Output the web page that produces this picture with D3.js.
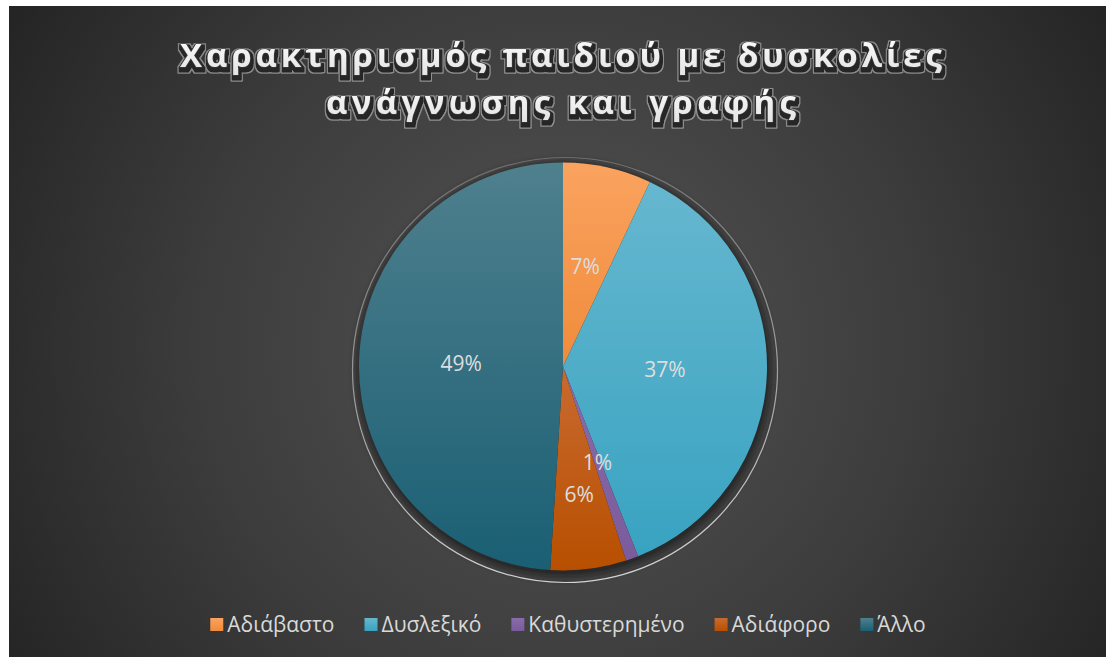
<!DOCTYPE html>
<html lang="el">
<head>
<meta charset="utf-8">
<script src="https://cdn.jsdelivr.net/npm/d3@7"></script>
<style>
  html, body { margin: 0; padding: 0; background: #ffffff; }
  svg { display: block; }
</style>
</head>
<body>
<svg id="chart" width="1106" height="657"></svg>
<script>
// Chart data
const titleLines = ["Χαρακτηρισμός παιδιού με δυσκολίες", "ανάγνωσης και γραφής"];
const categories = ["Αδιάβαστο", "Δυσλεξικό", "Καθυστερημένο", "Αδιάφορο", "Άλλο"];
const values = [7, 37, 1, 6, 49];
const baseColors = ["#f08b3b", "#38a3c1", "#7a5b9b", "#b84f00", "#1a5f74"];
const lightColors = ["#faa35f", "#66b7cf", "#8a6dab", "#c86a30", "#4f808e"];

const W = 1106, H = 657;
const svg = d3.select("#chart");
const defs = svg.append("defs");

// Background panel with radial shading
const bg = defs.append("radialGradient")
  .attr("id", "bgGrad").attr("gradientUnits", "userSpaceOnUse")
  .attr("cx", 560).attr("cy", 345).attr("r", 660);
bg.append("stop").attr("offset", "0").attr("stop-color", "#545454");
bg.append("stop").attr("offset", "0.55").attr("stop-color", "#3c3c3c");
bg.append("stop").attr("offset", "1").attr("stop-color", "#232323");

svg.append("rect").attr("x", 9).attr("y", 6).attr("width", W - 9).attr("height", H - 6)
  .attr("fill", "url(#bgGrad)");

// Slice gradients: lighter at top, base tone at bottom
values.forEach((v, i) => {
  const g = defs.append("linearGradient").attr("id", "slice" + i)
    .attr("x1", 0).attr("y1", 0).attr("x2", 0).attr("y2", 1);
  g.append("stop").attr("offset", "0").attr("stop-color", lightColors[i]);
  g.append("stop").attr("offset", "1").attr("stop-color", baseColors[i]);
});

// Title text gradient
const tg = defs.append("linearGradient").attr("id", "titleGrad")
  .attr("x1", 0).attr("y1", 0).attr("x2", 0).attr("y2", 1);
tg.append("stop").attr("offset", "0").attr("stop-color", "#ffffff");
tg.append("stop").attr("offset", "1").attr("stop-color", "#e2e2e2");

// Title shadow: dark offset body with a thin light contour
const tf = defs.append("filter").attr("id", "titleFx")
  .attr("x", "-5%").attr("y", "-40%").attr("width", "110%").attr("height", "190%");
tf.append("feMorphology").attr("in", "SourceAlpha").attr("operator", "dilate").attr("radius", 3).attr("result", "outerA");
tf.append("feOffset").attr("in", "outerA").attr("dx", 1).attr("dy", 3).attr("result", "outerOff");
tf.append("feFlood").attr("flood-color", "#cfcfcf").attr("flood-opacity", 0.55).attr("result", "lightC");
tf.append("feComposite").attr("in", "lightC").attr("in2", "outerOff").attr("operator", "in").attr("result", "light");
tf.append("feMorphology").attr("in", "SourceAlpha").attr("operator", "dilate").attr("radius", 2).attr("result", "darkA");
tf.append("feOffset").attr("in", "darkA").attr("dx", 1).attr("dy", 3).attr("result", "darkOff");
tf.append("feFlood").attr("flood-color", "#262626").attr("result", "darkC");
tf.append("feComposite").attr("in", "darkC").attr("in2", "darkOff").attr("operator", "in").attr("result", "dark");
const tm = tf.append("feMerge");
tm.append("feMergeNode").attr("in", "light");
tm.append("feMergeNode").attr("in", "dark");
tm.append("feMergeNode").attr("in", "SourceGraphic");

// Soft shadow filter for the pie
const f = defs.append("filter").attr("id", "pieShadow")
  .attr("x", "-20%").attr("y", "-20%").attr("width", "140%").attr("height", "140%");
f.append("feGaussianBlur").attr("stdDeviation", 4);

// Ring stroke gradient (fainter at top)
const rg = defs.append("linearGradient").attr("id", "ringGrad")
  .attr("x1", 0).attr("y1", 0).attr("x2", 0).attr("y2", 1);
rg.append("stop").attr("offset", "0").attr("stop-color", "#d8d8d8").attr("stop-opacity", 0.35);
rg.append("stop").attr("offset", "1").attr("stop-color", "#e8e8e8").attr("stop-opacity", 0.95);

// ---- Title ----
const titleFont = "'Open Sans', 'Noto Sans', sans-serif";
const titleSpecs = [
  { text: titleLines[0], y: 67, len: 762 },
  { text: titleLines[1], y: 114, len: 470 }
];
const titleG = svg.append("g");
titleSpecs.forEach(t => {
  titleG.append("text")
    .attr("x", 561).attr("y", t.y)
    .attr("text-anchor", "middle")
    .attr("font-family", titleFont).attr("font-weight", 700).attr("font-size", 33)
    .attr("textLength", t.len).attr("lengthAdjust", "spacing")
    .attr("fill", "url(#titleGrad)").attr("stroke", "#3a3a3a").attr("stroke-width", 1.5)
    .attr("paint-order", "stroke").attr("stroke-linejoin", "round")
    .attr("filter", "url(#titleFx)")
    .text(t.text);
});

// ---- Pie ----
const cx = 563, cy = 366.5, R = 204;
const pie = d3.pie().sort(null).value(d => d);
const arc = d3.arc().innerRadius(0).outerRadius(R);
const arcs = pie(values);

const pieG = svg.append("g").attr("transform", `translate(${cx},${cy})`);

// outer ring and soft shadow behind the pie
pieG.append("circle").attr("cx", 2).attr("cy", 3.5).attr("r", 212.5)
  .attr("fill", "none").attr("stroke", "url(#ringGrad)").attr("stroke-width", 1.2);
pieG.append("circle").attr("cx", 1).attr("cy", 3).attr("r", R + 3)
  .attr("fill", "#1e1e1e").attr("opacity", 0.8).attr("filter", "url(#pieShadow)");

pieG.selectAll("path.slice").data(arcs).enter().append("path")
  .attr("class", "slice")
  .attr("d", arc)
  .attr("fill", (d, i) => `url(#slice${i})`);

// ---- Data labels (best-fit inside slices) ----
const total = d3.sum(values);
const labelFont = "'Open Sans', 'Noto Sans', sans-serif";
const labelSize = 21;
const placed = [];
arcs.forEach((d, i) => {
  const a = (d.startAngle + d.endAngle) / 2;
  const txt = Math.round(d.data / total * 100) + "%";
  const w = txt.length * 11.5, h = 22;
  let r = R * 0.5;
  const pos = rr => [Math.sin(a) * rr, -Math.cos(a) * rr];
  const overlaps = p => placed.some(q =>
    Math.abs(p[0] - q.x) < (w + q.w) / 2 && Math.abs(p[1] - q.y) < h + 10);
  let p = pos(r);
  while (overlaps(p) && r < R * 0.85) { r += 1; p = pos(r); }
  placed.push({ x: p[0], y: p[1], w });
  pieG.append("text")
    .attr("x", p[0]).attr("y", p[1])
    .attr("dy", "0.35em")
    .attr("text-anchor", "middle")
    .attr("font-family", labelFont).attr("font-size", labelSize)
    .attr("fill", "#dedede")
    .text(txt);
});

// ---- Legend ----
const legendFont = "'Open Sans', 'Noto Sans', sans-serif";
const legendG = svg.append("g");
const items = legendG.selectAll("g.item").data(categories).enter().append("g").attr("class", "item");
items.append("rect").attr("width", 13).attr("height", 13).attr("y", -13.5)
  .attr("fill", (d, i) => `url(#slice${i})`);
items.append("text").attr("x", 17).attr("y", 0)
  .attr("font-family", legendFont).attr("font-size", 21)
  .attr("fill", "#d9d9d9")
  .text(d => d);
const gap = 30;
let xs = [], acc = 0;
items.each(function () {
  const tw = d3.select(this).select("text").node().getComputedTextLength();
  xs.push(acc);
  acc += 17 + tw + gap;
});
acc -= gap;
const x0 = 568 - acc / 2;
items.attr("transform", (d, i) => `translate(${x0 + xs[i]},631.5)`);
</script>
</body>
</html>
